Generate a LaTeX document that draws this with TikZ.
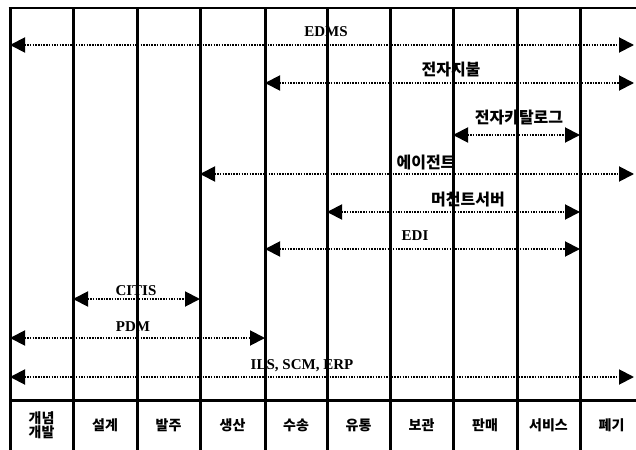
\documentclass[tikz,border=0pt]{standalone}
\usepackage{fontspec}
\setmainfont{Liberation Serif}
\newfontfamily\kr{Noto Sans CJK KR}
\usetikzlibrary{arrows.meta}

\begin{document}
\begin{tikzpicture}[x=1pt,y=-1pt,
  rule/.style={line width=3pt,black},
  flow/.style={{Triangle[length=15pt,width=15pt]}-{Triangle[length=15pt,width=15pt]},line width=1.9pt,dash pattern=on 1.5pt off 1.2pt},
  entag/.style={font=\fontsize{15}{17}\selectfont\bfseries,inner sep=0pt},
  krtag/.style={font=\kr\fontsize{16}{18}\selectfont\bfseries,inner sep=0pt},
  stage/.style={font=\kr\fontsize{14}{14}\selectfont\bfseries,align=center,inner sep=0pt}]
\useasboundingbox (0,0) rectangle (636,449);
\clip (0,0) rectangle (636,449);
% column boundaries
\foreach \x [count=\i from 0] in {10,73,137,200,265,327,390,453,517,580,643}
  \coordinate (b\i) at (\x,8);
\coordinate (bR) at (634,8);
\foreach \i in {0,...,10}
  \draw[rule] (b\i) -- ++(0,445);
\draw[rule,line width=2.2pt] ([xshift=-1.5pt]b0) -- (650,8);
\draw[rule] (b0 |- 0,400) -- (650,400);
% arrow rows
\coordinate (redms) at (0,45);
\coordinate (rpay) at (0,83);
\coordinate (rcat) at (0,135);
\coordinate (ragent) at (0,174);
\coordinate (rmerch) at (0,212);
\coordinate (redi) at (0,249);
\coordinate (rcitis) at (0,299);
\coordinate (rpdm) at (0,338);
\coordinate (rils) at (0,377);
\draw[flow] (b0 |- redms) -- (bR |- redms);
\draw[flow] (b4 |- rpay) -- (bR |- rpay);
\draw[flow] (b7 |- rcat) -- (b9 |- rcat);
\draw[flow] (b3 |- ragent) -- (bR |- ragent);
\draw[flow] (b5 |- rmerch) -- (b9 |- rmerch);
\draw[flow] (b4 |- redi) -- (b9 |- redi);
\draw[flow] (b1 |- rcitis) -- (b3 |- rcitis);
\draw[flow] (b0 |- rpdm) -- (b4 |- rpdm);
\draw[flow] (b0 |- rils) -- (bR |- rils);
% labels
\node[entag] (edms) at (326,32) {EDMS};
\node[krtag] (pay) at (451,70) {전자지불};
\node[krtag] (cat) at (519,118) {전자카탈로그};
\node[krtag] (agent) at (426,163) {에이전트};
\node[krtag] (merch) at (468,200) {머천트서버};
\node[entag] (edi) at (415,236) {EDI};
\node[entag] (citis) at (136,291) {CITIS};
\node[entag] (pdm) at (133,327) {PDM};
\node[entag] (ils) at (302,366) {ILS, SCM, ERP};
% stages
\node[stage] (s1) at (41.5,425) {개념\\개발};
\node[stage] (s2) at (105,425) {설계};
\node[stage] (s3) at (168.5,425) {발주};
\node[stage] (s4) at (232.5,425) {생산};
\node[stage] (s5) at (296,425) {수송};
\node[stage] (s6) at (358.5,425) {유통};
\node[stage] (s7) at (421.5,425) {보관};
\node[stage] (s8) at (485,425) {판매};
\node[stage] (s9) at (548.5,425) {서비스};
\node[stage] (s10) at (611.5,425) {폐기};
\end{tikzpicture}
\end{document}
